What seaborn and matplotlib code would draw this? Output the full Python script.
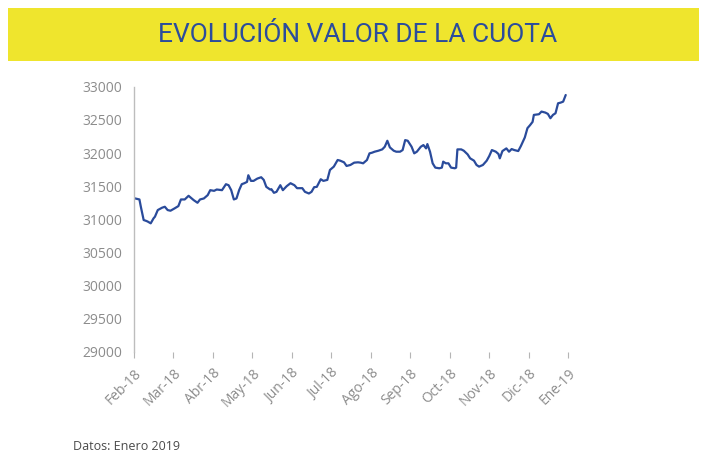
import pandas as pd
import matplotlib.pyplot as plt
from matplotlib.patches import Rectangle
import seaborn as sns

# valores (fecha, valor cuota)
fechas = [
    "2018-02-01", "2018-02-05", "2018-02-06", "2018-02-08", "2018-02-10", "2018-02-11",
    "2018-02-13", "2018-02-15", "2018-02-16", "2018-02-18", "2018-02-21", "2018-02-23",
    "2018-02-25", "2018-02-27", "2018-03-02", "2018-03-05", "2018-03-07", "2018-03-10",
    "2018-03-13", "2018-03-17", "2018-03-20", "2018-03-22", "2018-03-25", "2018-03-28",
    "2018-03-30", "2018-04-02", "2018-04-04", "2018-04-08", "2018-04-11", "2018-04-13",
    "2018-04-15", "2018-04-17", "2018-04-19", "2018-04-21", "2018-04-23", "2018-04-25",
    "2018-04-27", "2018-04-28", "2018-04-30", "2018-05-02", "2018-05-05", "2018-05-08",
    "2018-05-10", "2018-05-12", "2018-05-15", "2018-05-16", "2018-05-18", "2018-05-20",
    "2018-05-23", "2018-05-25", "2018-05-28", "2018-05-31", "2018-06-03", "2018-06-05",
    "2018-06-09", "2018-06-11", "2018-06-14", "2018-06-16", "2018-06-18", "2018-06-20",
    "2018-06-23", "2018-06-25", "2018-06-28", "2018-06-30", "2018-07-03", "2018-07-06",
    "2018-07-08", "2018-07-11", "2018-07-13", "2018-07-16", "2018-07-19", "2018-07-22",
    "2018-07-24", "2018-07-26", "2018-07-29", "2018-07-31", "2018-08-02", "2018-08-04",
    "2018-08-07", "2018-08-10", "2018-08-12", "2018-08-14", "2018-08-16", "2018-08-19",
    "2018-08-21", "2018-08-24", "2018-08-26", "2018-08-28", "2018-08-30", "2018-09-02",
    "2018-09-04", "2018-09-06", "2018-09-09", "2018-09-11", "2018-09-13", "2018-09-14",
    "2018-09-16", "2018-09-18", "2018-09-20", "2018-09-23", "2018-09-25", "2018-09-26",
    "2018-09-28", "2018-09-30", "2018-10-02", "2018-10-05", "2018-10-06", "2018-10-07",
    "2018-10-10", "2018-10-12", "2018-10-15", "2018-10-17", "2018-10-20", "2018-10-22",
    "2018-10-24", "2018-10-27", "2018-10-30", "2018-11-01", "2018-11-03", "2018-11-06",
    "2018-11-08", "2018-11-09", "2018-11-11", "2018-11-14", "2018-11-16", "2018-11-18",
    "2018-11-20", "2018-11-23", "2018-11-25", "2018-11-28", "2018-11-30", "2018-12-02",
    "2018-12-04", "2018-12-05", "2018-12-09", "2018-12-11", "2018-12-14", "2018-12-16",
    "2018-12-18", "2018-12-20", "2018-12-22", "2018-12-24", "2018-12-26", "2018-12-28",
    "2018-12-30",
]
valores = [
    31320, 31300, 31190, 30990, 30975, 30965,
    30940, 31015, 31040, 31140, 31175, 31190,
    31140, 31130, 31165, 31200, 31300, 31300,
    31355, 31290, 31250, 31300, 31315, 31365,
    31440, 31430, 31450, 31440, 31530, 31515,
    31440, 31300, 31315, 31440, 31530, 31545,
    31565, 31665, 31580, 31580, 31615, 31635,
    31595, 31490, 31450, 31455, 31400, 31415,
    31515, 31440, 31500, 31545, 31515, 31470,
    31470, 31415, 31390, 31415, 31485, 31490,
    31605, 31580, 31595, 31745, 31795, 31895,
    31885, 31860, 31805, 31820, 31855, 31860,
    31855, 31845, 31895, 31995, 32005, 32020,
    32035, 32055, 32095, 32185, 32085, 32035,
    32020, 32020, 32045, 32195, 32185, 32095,
    31995, 32020, 32095, 32120, 32070, 32135,
    32020, 31845, 31780, 31770, 31780, 31870,
    31845, 31845, 31780, 31770, 31780, 32055,
    32055, 32035, 31980, 31920, 31885, 31820,
    31795, 31820, 31885, 31955, 32045, 32020,
    31985, 31920, 32030, 32070, 32020, 32060,
    32045, 32030, 32105, 32235, 32375, 32420,
    32470, 32575, 32585, 32625, 32610, 32590,
    32525, 32575, 32600, 32750, 32760, 32775,
    32875,
]
meses = ["Feb-18", "Mar-18", "Abr-18", "May-18", "Jun-18", "Jul-18",
         "Ago-18", "Sep-18", "Oct-18", "Nov-18", "Dic-18", "Ene-19"]
y_ticks = [29000, 29500, 30000, 30500, 31000, 31500, 32000, 32500, 33000]

# eje de meses equiespaciados (como en excel): mes + fraccion del mes
d = pd.to_datetime(pd.Series(fechas))
mes_x = (d.dt.year - 2018) * 12 + (d.dt.month - 2) + (d.dt.day - 1) / d.dt.days_in_month
df = pd.DataFrame({"mes": mes_x, "valor": valores})

sns.set_style("white")
plt.rcParams["font.family"] = ["Open Sans", "DejaVu Sans"]

fig = plt.figure(figsize=(7.06, 4.54), dpi=100)
ax = fig.add_axes([0.1895, 0.2247, 0.6154, 0.5843])

sns.lineplot(data=df, x="mes", y="valor", ax=ax, color="#2a4b9b", linewidth=1.6)

ax.set_ylim(29000, 33000)
ax.set_xlim(0, 11)
ax.set_yticks(y_ticks)
ax.set_yticklabels([str(v) for v in y_ticks])
ax.set_xticks(range(len(meses)))
ax.set_xticklabels(meses, rotation=45, ha="right", rotation_mode="anchor")
ax.set_xlabel("")
ax.set_ylabel("")

for s in ["top", "right", "bottom"]:
    ax.spines[s].set_visible(False)
ax.spines["left"].set_color("#bdbdbd")
ax.spines["left"].set_linewidth(1.0)
ax.tick_params(axis="y", left=False, pad=5, labelsize=10, labelcolor="#8c8c8c")
ax.tick_params(axis="x", bottom=True, direction="out", length=4, width=0.8,
               color="#b5b5b5", pad=6, labelsize=10, labelcolor="#8c8c8c")

# banda amarilla del titulo
fig.patches.append(Rectangle((8 / 706, 1 - 61 / 454), 691 / 706, 53 / 454,
                             transform=fig.transFigure, facecolor="#efe52d",
                             edgecolor="none", zorder=0))
fig.text(358 / 706, 1 - 35 / 454, "EVOLUCIÓN VALOR DE LA CUOTA", ha="center", va="center",
         fontsize=19, color="#2b4c9c", family=["Roboto", "DejaVu Sans"])

fig.text(73 / 706, 1 - 447 / 454, "Datos: Enero 2019", ha="left", va="center",
         fontsize=9, color="#4a4a4a")

fig.savefig("out.png", dpi=100)
